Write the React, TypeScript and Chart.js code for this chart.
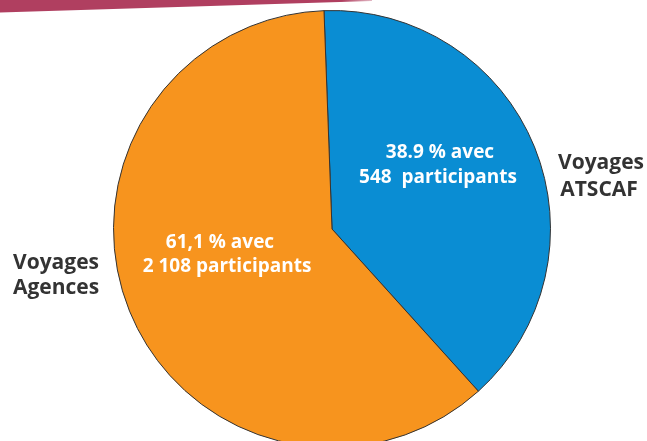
import React, { useEffect, useRef } from "react";
import { Chart, registerables } from "chart.js";

Chart.register(...registerables);

const categories = ["Voyages ATSCAF", "Voyages Agences"];
const values = [38.9, 61.1];
const participants = ["548", "2 108"];
const insideLabels = [
  ["38.9 % avec", "548  participants"],
  ["61,1 % avec", "2 108 participants"],
];
const outsideLabels = [
  ["Voyages", "ATSCAF"],
  ["Voyages", "Agences"],
];
const colors = ["#0A8DD3", "#F7941E"];

const FONT = "'Open Sans', 'Noto Sans', sans-serif";

const decorPlugin = {
  id: "decor",
  beforeDraw(chart: any) {
    const ctx = chart.ctx;
    ctx.save();
    const grad = ctx.createLinearGradient(0, 0, 380, 0);
    grad.addColorStop(0, "#B03F60");
    grad.addColorStop(0.9, "#B03F60");
    grad.addColorStop(1, "rgba(176,63,96,0.2)");
    ctx.fillStyle = grad;
    ctx.beginPath();
    ctx.moveTo(0, 0);
    ctx.lineTo(372, 0);
    ctx.lineTo(372, 1);
    ctx.lineTo(0, 12.5);
    ctx.closePath();
    ctx.fill();
    ctx.restore();
  },
  afterDraw(chart: any) {
    const ctx = chart.ctx;
    const arc = chart.getDatasetMeta(0).data[0];
    const cx = arc.x;
    const cy = arc.y;
    ctx.save();
    ctx.textAlign = "center";
    ctx.textBaseline = "middle";
    // inside labels
    ctx.fillStyle = "#FFFFFF";
    ctx.font = `bold 19px ${FONT}`;
    const inPos = [
      [[108, -76], [106, -51]],
      [[-112, 14], [-105, 38]],
    ];
    insideLabels.forEach((lines, i) => {
      lines.forEach((t, j) => {
        ctx.fillText(t, cx + inPos[i][j][0], cy + inPos[i][j][1]);
      });
    });
    // outside labels
    ctx.fillStyle = "#333333";
    ctx.font = `bold 21px ${FONT}`;
    const outPos = [
      [[269, -66], [267, -39]],
      [[-276, 34], [-276, 59]],
    ];
    outsideLabels.forEach((lines, i) => {
      lines.forEach((t, j) => {
        ctx.fillText(t, cx + outPos[i][j][0], cy + outPos[i][j][1]);
      });
    });
    ctx.restore();
  },
};

export default function App() {
  const ref = useRef<HTMLCanvasElement>(null);
  useEffect(() => {
    if (!ref.current) return;
    const chart = new Chart(ref.current, {
      type: "pie",
      data: {
        labels: categories,
        datasets: [
          {
            data: values,
            backgroundColor: colors,
            borderColor: "#333333",
            borderWidth: 1,
          },
        ],
      },
      options: {
        responsive: false,
        animation: false,
        rotation: -2.1,
        layout: { padding: { left: 113, right: 96, top: 10, bottom: 12 } },
        plugins: {
          legend: { display: false },
          tooltip: { enabled: false },
        },
      },
      plugins: [decorPlugin],
    });
    return () => chart.destroy();
  }, []);
  return (
    <div
      style={{
        position: "absolute",
        left: 0,
        top: 0,
        width: 647,
        height: 441,
        overflow: "hidden",
        background: "#FFFFFF",
      }}
    >
      <canvas ref={ref} width={647} height={460} style={{ width: 647, height: 460, display: "block" }} />
    </div>
  );
}
